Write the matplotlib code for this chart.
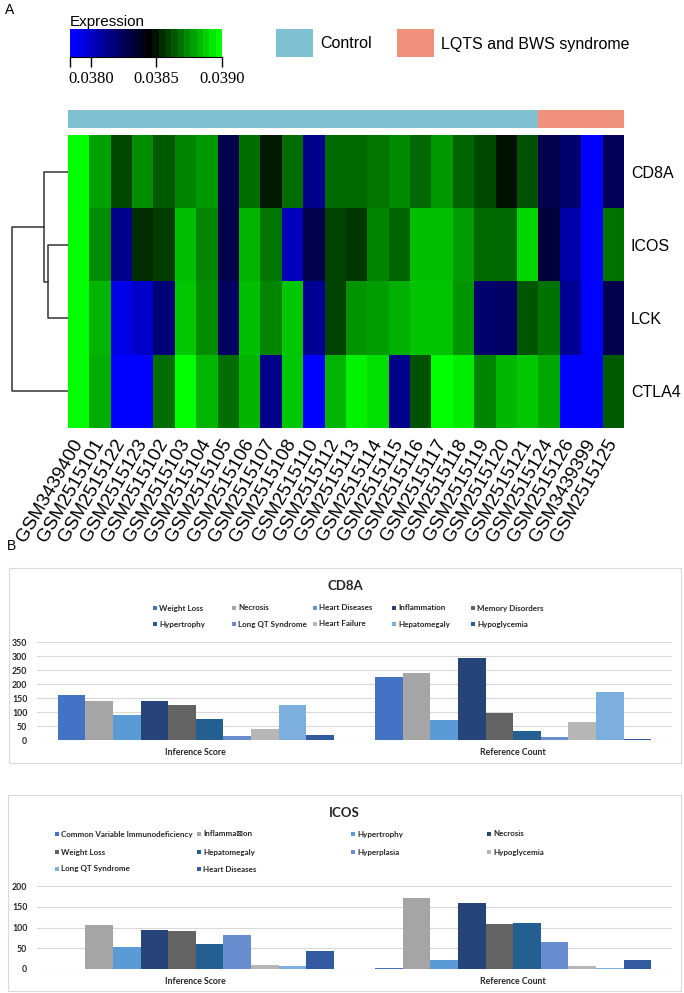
import numpy as np
import matplotlib
matplotlib.use("Agg")
import matplotlib.pyplot as plt
from matplotlib.colors import LinearSegmentedColormap, ListedColormap, Normalize
from matplotlib.patches import Rectangle

# ---- panel A data ----
genes = ["CD8A", "ICOS", "LCK", "CTLA4"]
samples = ["GSM3439400", "GSM2515101", "GSM2515122", "GSM2515123", "GSM2515102",
           "GSM2515103", "GSM2515104", "GSM2515105", "GSM2515106", "GSM2515107",
           "GSM2515108", "GSM2515110", "GSM2515112", "GSM2515113", "GSM2515114",
           "GSM2515115", "GSM2515116", "GSM2515117", "GSM2515118", "GSM2515119",
           "GSM2515120", "GSM2515121", "GSM2515124", "GSM2515126", "GSM3439399",
           "GSM2515125"]
groups = ["Control"] * 22 + ["LQTS and BWS syndrome"] * 4

cd8a = [0.03900, 0.03880, 0.03861, 0.03876, 0.03865, 0.03874, 0.03878, 0.03827, 0.03869,
        0.03851, 0.03869, 0.03812, 0.03868, 0.03868, 0.03871, 0.03875, 0.03868, 0.03878,
        0.03867, 0.03861, 0.03849, 0.03863, 0.03827, 0.03819, 0.03784, 0.03824]
icos = [0.03900, 0.03876, 0.03812, 0.03855, 0.03858, 0.03886, 0.03874, 0.03827, 0.03884,
        0.03871, 0.03800, 0.03827, 0.03860, 0.03857, 0.03874, 0.03867, 0.03886, 0.03886,
        0.03879, 0.03868, 0.03868, 0.03891, 0.03831, 0.03805, 0.03784, 0.03870]
lck = [0.03900, 0.03884, 0.03790, 0.03797, 0.03817, 0.03888, 0.03876, 0.03822, 0.03886,
       0.03874, 0.03888, 0.03810, 0.03860, 0.03877, 0.03879, 0.03883, 0.03887, 0.03887,
       0.03877, 0.03819, 0.03822, 0.03864, 0.03870, 0.03810, 0.03784, 0.03827]
ctla4 = [0.03900, 0.03882, 0.03784, 0.03784, 0.03869, 0.03900, 0.03884, 0.03869, 0.03884,
         0.03812, 0.03888, 0.03784, 0.03884, 0.03897, 0.03893, 0.03812, 0.03863, 0.03900,
         0.03896, 0.03874, 0.03885, 0.03888, 0.03881, 0.03784, 0.03785, 0.03865]

# dendrogram merge heights: (ICOS, LCK), CD8A + that, CTLA4 + rest
merge_heights = [0.355, 0.426, 1.0]

expr_ticks = [0.0380, 0.0385, 0.0390]

# ---- panel B data ----
bar_categories = ["Inference Score", "Reference Count"]

cd8a_terms = ["Weight Loss", "Necrosis", "Heart Diseases", "Inflammation", "Memory Disorders",
              "Hypertrophy", "Long QT Syndrome", "Heart Failure", "Hepatomegaly", "Hypoglycemia"]
cd8a_inference = [161, 138, 89, 138, 124, 76, 14, 39, 124, 19]
cd8a_reference = [224, 240, 71, 293, 95, 33, 12, 65, 171, 4]

icos_terms = ["Common Variable Immunodeficiency", "Inflamma\u22a0on", "Hypertrophy", "Necrosis",
              "Weight Loss", "Hepatomegaly", "Hyperplasia", "Hypoglycemia", "Long QT Syndrome",
              "Heart Diseases"]
icos_inference = [0, 107, 54, 95, 91, 61, 81, 10, 7, 44]
icos_reference = [2, 172, 21, 160, 108, 110, 65, 7, 2, 22]

office_colors = ["#4472C4", "#A5A5A5", "#5B9BD5", "#264478", "#636363",
                 "#255E91", "#698ED0", "#B7B7B7", "#7CAFDD", "#335AA1"]

# ---- figure ----
W, H = 684, 993
fig = plt.figure(figsize=(W / 100, H / 100), dpi=100)
sans = ["Liberation Sans", "DejaVu Sans"]
xl = ["Lato", "DejaVu Sans"]


def px_axes(l, t, r, b):
    return fig.add_axes([l / W, 1 - b / H, (r - l) / W, (b - t) / H])


def fx(x):
    return x / W


def fy(y):
    return 1 - y / H


vmin, vcenter, vmax = 0.037841, 0.038455, 0.0390
frac = (vcenter - vmin) / (vmax - vmin)
cmap = LinearSegmentedColormap.from_list(
    "bkg", [(0, "#0000FF"), (frac, "#000000"), (1, "#00FF00")])
norm = Normalize(vmin, vmax)

fig.text(fx(5), fy(10), "A", family=sans, fontsize=10, va="center")

# colour key
ax_cb = px_axes(70, 29, 222, 57)
cb_vals = np.linspace(vmin, vmax, 24)
ax_cb.imshow(cb_vals[None, :], cmap=cmap, norm=norm, aspect="auto",
             extent=[vmin, vmax, 0, 1])
ax_cb.set_xlim(vmin, vmax)
ax_cb.set_yticks([])
ax_cb.set_xticks([vmin] + expr_ticks)
ax_cb.set_xticklabels([""] + ["%.4f" % t for t in expr_ticks],
                      family=["Liberation Serif"], fontsize=12)
ax_cb.tick_params(axis="x", length=7, width=1, pad=3)
for s in ["top", "left", "right"]:
    ax_cb.spines[s].set_visible(False)
ax_cb.set_title("Expression", family=sans, fontsize=11, loc="left", pad=2, x=0.0)

# group key
group_colors = {"Control": "#80C1D1", "LQTS and BWS syndrome": "#F0917E"}
for (gx, gname) in zip([276, 397], group_colors):
    fig.patches.append(Rectangle((fx(gx), fy(57)), fx(37), 28 / H, transform=fig.transFigure,
                                 facecolor=group_colors[gname], edgecolor="none"))
    fig.text(fx(gx + 44), fy(44), gname, family=sans, fontsize=11.5, va="center")

# annotation bar
ax_ann = px_axes(68, 110, 624, 128)
grp_idx = np.array([[list(group_colors).index(g) for g in groups]])
ax_ann.imshow(grp_idx, cmap=ListedColormap(list(group_colors.values())), aspect="auto",
              vmin=0, vmax=1)
ax_ann.axis("off")

# heatmap
expr = np.array([cd8a, icos, lck, ctla4])
ax_hm = px_axes(68, 135, 624, 428)
ax_hm.imshow(expr, cmap=cmap, norm=norm, aspect="auto", interpolation="nearest")
ax_hm.set_xticks(np.arange(len(samples)))
ax_hm.set_xticklabels(samples, rotation=60, ha="right", va="center",
                      rotation_mode="anchor", family=sans, fontsize=13.5)
ax_hm.set_yticks(np.arange(len(genes)))
ax_hm.set_yticklabels(genes, family=sans, fontsize=11.5)
ax_hm.yaxis.tick_right()
ax_hm.tick_params(axis="x", length=0, pad=9)
ax_hm.tick_params(axis="y", length=0, pad=5)
for s in ax_hm.spines.values():
    s.set_visible(False)

# dendrogram
ax_d = px_axes(10, 135, 68, 428)
ax_d.set_ylim(3.5, -0.5)
ax_d.set_xlim(1.03, 0)
h1, h2, h3 = merge_heights
lk = dict(color="#333333", lw=1.1)
ax_d.plot([0, h1, h1, 0], [1, 1, 2, 2], **lk)
ax_d.plot([0, h2, h2, h1], [0, 0, 1.5, 1.5], **lk)
ax_d.plot([0, h3, h3, h2], [3, 3, 0.75, 0.75], **lk)
ax_d.axis("off")

# ---- panel B ----
fig.text(fx(7), fy(546), "B", family=sans, fontsize=10, va="center")


def bar_panel(box, plot, title, title_y, terms, vals_a, vals_b, ymax, ystep,
              leg_cols, leg_rows, ncol):
    bl, bt, br, bb = box
    fig.patches.append(Rectangle((fx(bl), fy(bb)), (br - bl) / W, (bb - bt) / H,
                                 transform=fig.transFigure, facecolor="none",
                                 edgecolor="#D9D9D9", lw=0.8, zorder=-1))
    fig.text(fx((bl + br) / 2), fy(title_y), title, family=xl, fontsize=9.5,
             fontweight="bold", ha="center", va="center", color="#262626")
    for i, term in enumerate(terms):
        r, c = divmod(i, ncol)
        x0, y0 = leg_cols[c], leg_rows[r]
        fig.patches.append(Rectangle((fx(x0), fy(y0 + 2)), 4 / W, 4 / H,
                                     transform=fig.transFigure,
                                     facecolor=office_colors[i], edgecolor="none"))
        fig.text(fx(x0 + 6), fy(y0), term, family=xl, fontsize=5.8, fontweight="bold",
                 va="center", color="#262626")
    ax = px_axes(*plot)
    ax.set_facecolor("none")
    n = len(terms)
    w = 0.087
    xs = np.arange(len(bar_categories))
    for i in range(n):
        ax.bar(xs + (i - (n - 1) / 2) * w, [vals_a[i], vals_b[i]], width=w,
               color=office_colors[i], zorder=3)
    ax.set_xlim(-0.5, 1.5)
    ax.set_ylim(0, ymax)
    ax.set_yticks(np.arange(0, ymax + 1, ystep))
    ax.yaxis.grid(True, color="#D9D9D9", lw=0.8, zorder=0)
    ax.set_axisbelow(True)
    ax.set_xticks(xs)
    ax.set_xticklabels(bar_categories)
    for lab in ax.get_xticklabels() + ax.get_yticklabels():
        lab.set_family(xl)
        lab.set_fontweight("bold")
        lab.set_fontsize(6.3)
        lab.set_color("#262626")
    ax.tick_params(length=0)
    ax.tick_params(axis="x", pad=6)
    ax.tick_params(axis="y", pad=7)
    for s in ax.spines.values():
        s.set_visible(False)
    return ax


bar_panel((9, 568, 681, 763), (37, 642, 672, 740), "CD8A", 586,
          cd8a_terms, cd8a_inference, cd8a_reference, 350, 50,
          [153, 232, 313, 392, 471], [608, 624], 5)
bar_panel((8, 795, 681, 991), (37, 886, 672, 969), "ICOS", 813,
          icos_terms, icos_inference, icos_reference, 200, 50,
          [55, 197, 351, 487], [834, 852, 869], 4)

fig.savefig("out.png", dpi=100)
